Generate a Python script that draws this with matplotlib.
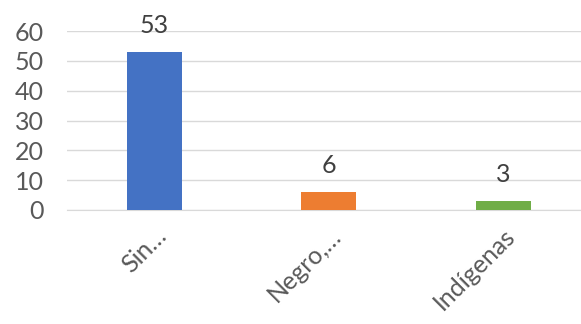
import matplotlib.pyplot as plt
import numpy as np

categorias = ['Sin…', 'Negro,…', 'Indígenas']
valores = [53, 6, 3]
colores = ['#4472C4', '#ED7D31', '#70AD47']

plt.rcParams['font.family'] = ['Lato', 'DejaVu Sans']

fig = plt.figure(figsize=(5.81, 3.24), dpi=100)
ax = fig.add_axes([0.116, 0.352, 0.90, 0.552])

x = np.arange(len(categorias))
barras = ax.bar(x, valores, width=0.315, color=colores, zorder=3)

# etiquetas de datos encima de cada barra
for xi, v in zip(x, valores):
    ax.text(xi, v + 5.0, str(v), ha='center', va='bottom', fontsize=18, color='#404040')

ax.set_xlim(-0.5, 2.5)
ax.set_ylim(0, 60)
ax.set_yticks(range(0, 61, 10))
ax.yaxis.grid(True, color='#D9D9D9', linewidth=1, zorder=0)
ax.set_xticks(x)
ax.set_xticklabels(categorias, rotation=45, ha='right', rotation_mode='anchor')

for lado in ['top', 'right', 'left']:
    ax.spines[lado].set_visible(False)
ax.spines['bottom'].set_color('#D9D9D9')
ax.tick_params(axis='both', length=0, labelsize=18, colors='#595959')
ax.tick_params(axis='x', pad=10)
ax.tick_params(axis='y', pad=17)

fig.savefig('out.png', dpi=100)
